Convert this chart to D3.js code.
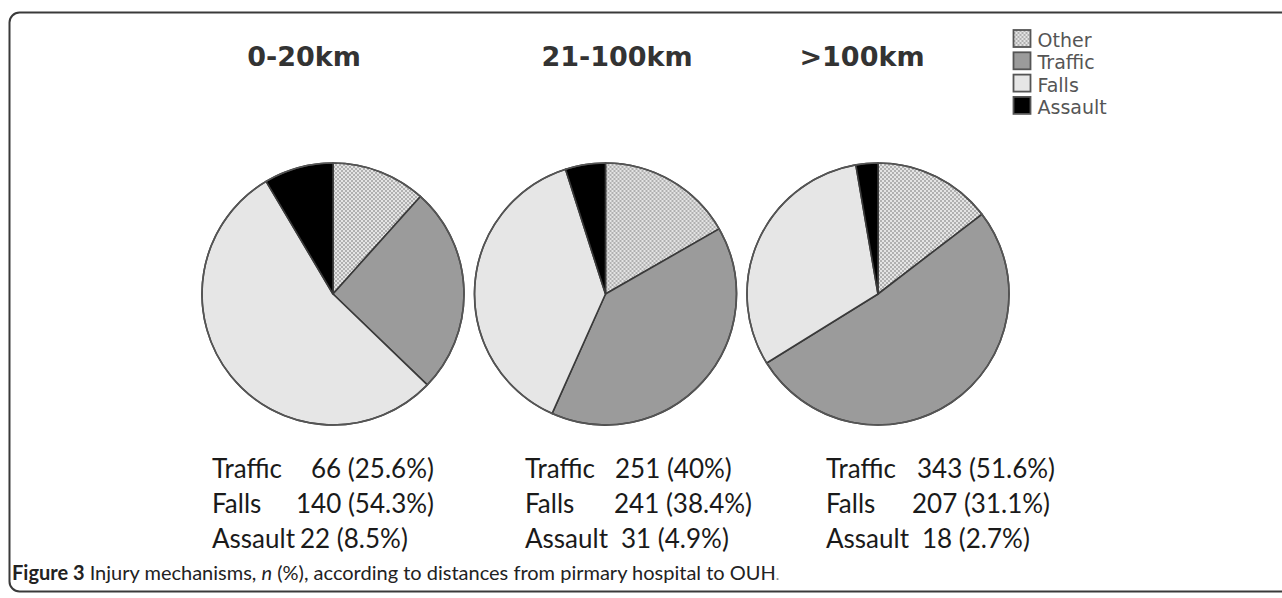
<!DOCTYPE html>
<html>
<head>
<meta charset="utf-8">
<script src="https://cdn.jsdelivr.net/npm/d3@7/dist/d3.min.js"></script>
<style>
  html, body { margin: 0; padding: 0; background: #fff; }
  svg { display: block; }
</style>
</head>
<body>
<svg id="chart" width="1282" height="598"></svg>
<script>
// ---- data ----
const groups = ["0-20km", "21-100km", ">100km"];
const categories = ["Other", "Traffic", "Falls", "Assault"];
const otherN   = [30, 105, 97];
const trafficN = [66, 251, 343];
const fallsN   = [140, 241, 207];
const assaultN = [22, 31, 18];
const trafficPct = ["25.6", "40", "51.6"];
const fallsPct   = ["54.3", "38.4", "31.1"];
const assaultPct = ["8.5", "4.9", "2.7"];
const rowLabels = ["Traffic", "Falls", "Assault"];
const captionBold = "Figure 3";
const captionText = [" Injury mechanisms, ", "n", " (%), according to distances from pirmary hospital to OUH", "."];

// ---- layout ----
const svg = d3.select("#chart");
const fills = { Other: "url(#dots)", Traffic: "#9b9b9b", Falls: "#e6e6e6", Assault: "#000000" };

const defs = svg.append("defs");
const pat = defs.append("pattern").attr("id", "dots")
  .attr("patternUnits", "userSpaceOnUse").attr("width", 4).attr("height", 4);
pat.append("rect").attr("width", 4).attr("height", 4).attr("fill", "#e4e4e4");
pat.append("rect").attr("x", 0).attr("y", 0).attr("width", 2).attr("height", 2).attr("fill", "#b0b0b0");
pat.append("rect").attr("x", 2).attr("y", 2).attr("width", 2).attr("height", 2).attr("fill", "#b0b0b0");

// frame
svg.append("rect").attr("x", 9.5).attr("y", 12.5).attr("width", 1290).attr("height", 579)
  .attr("rx", 10).attr("fill", "none").attr("stroke", "#3a3a3a").attr("stroke-width", 2);

// pie placement via a point scale
const xCenter = d3.scalePoint().domain(groups).range([333, 878]);
const pieCY = 294, radius = 131;

const pie = d3.pie().sort(null).value(d => d.value).startAngle(0).endAngle(2 * Math.PI);
const arc = d3.arc().innerRadius(0).outerRadius(radius);

groups.forEach((g, i) => {
  const vals = [otherN[i], trafficN[i], fallsN[i], assaultN[i]];
  const data = categories.map((c, k) => ({ cat: c, value: vals[k] }));
  const gp = svg.append("g").attr("transform", `translate(${xCenter(g)},${pieCY})`);
  gp.selectAll("path").data(pie(data)).join("path")
    .attr("d", arc)
    .attr("fill", d => fills[d.data.cat])
    .attr("stroke", "#3a3a3a").attr("stroke-width", 1.6).attr("stroke-linejoin", "round");
  gp.append("circle").attr("r", radius).attr("fill", "none")
    .attr("stroke", "#555").attr("stroke-width", 1.6);
});

// titles
const titleX = [304, 617, 862];
svg.selectAll("text.title").data(groups).join("text")
  .attr("class", "title")
  .attr("x", (d, i) => titleX[i]).attr("y", 66)
  .attr("text-anchor", "middle")
  .attr("font-family", "DejaVu Sans").attr("font-weight", "bold").attr("font-size", 27)
  .attr("fill", "#333").text(d => d);

// legend
const legY0 = 30, legStep = 22.3, sq = 17;
const leg = svg.append("g").attr("transform", "translate(1013.5,0)");
categories.forEach((c, k) => {
  const y = legY0 + k * legStep;
  leg.append("rect").attr("x", 0).attr("y", y).attr("width", sq).attr("height", sq)
    .attr("fill", fills[c]).attr("stroke", "#555").attr("stroke-width", 1.8);
  leg.append("text").attr("x", 24).attr("y", y + 17)
    .attr("font-family", "DejaVu Sans").attr("font-size", 19).attr("fill", "#555").text(c);
});

// text blocks
const blockX = [212, 525, 826];
const valOffset = [[99, 84, 88], [90, 89, 96], [91, 86, 96]];
const rowY = [478, 513, 548];
groups.forEach((g, i) => {
  const rows = [
    `${trafficN[i]} (${trafficPct[i]}%)`,
    `${fallsN[i]} (${fallsPct[i]}%)`,
    `${assaultN[i]} (${assaultPct[i]}%)`
  ];
  rowLabels.forEach((lab, r) => {
    svg.append("text").attr("x", blockX[i]).attr("y", rowY[r])
      .attr("font-family", "Lato").attr("font-size", 26).attr("fill", "#1a1a1a").text(lab);
    svg.append("text").attr("x", blockX[i] + valOffset[i][r]).attr("y", rowY[r])
      .attr("font-family", "Lato").attr("font-size", 26).attr("fill", "#1a1a1a").text(rows[r]);
  });
});

// caption
const cap = svg.append("text").attr("x", 12).attr("y", 580)
  .attr("font-family", "Lato").attr("font-size", 20).attr("fill", "#222");
cap.append("tspan").attr("font-weight", "bold").text(captionBold);
cap.append("tspan").text(captionText[0]);
cap.append("tspan").attr("font-style", "italic").text(captionText[1]);
cap.append("tspan").text(captionText[2]);
cap.append("tspan").attr("fill", "#888").attr("font-size", 15).text(captionText[3]);
</script>
</body>
</html>
